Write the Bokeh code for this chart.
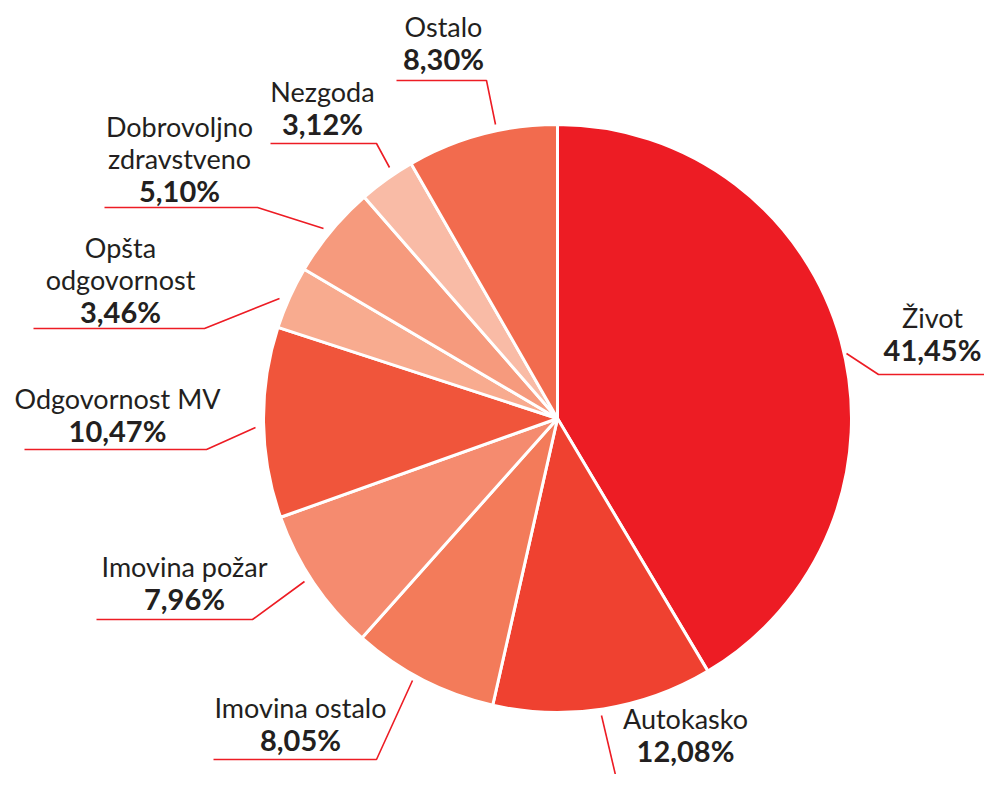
import math
from bokeh.plotting import figure
from bokeh.models import Range1d, ColumnDataSource
from bokeh.core.properties import value
from bokeh.embed import file_html
from bokeh.resources import INLINE

# ---- data ----
categories = ["Život", "Autokasko", "Imovina ostalo", "Imovina požar", "Odgovornost MV",
              "Opšta\nodgovornost", "Dobrovoljno\nzdravstveno", "Nezgoda", "Ostalo"]
shares = [41.45, 12.08, 8.05, 7.96, 10.47, 3.46, 5.10, 3.12, 8.30]
pct_labels = ["41,45%", "12,08%", "8,05%", "7,96%", "10,47%", "3,46%", "5,10%", "3,12%", "8,30%"]
colors = ["#ED1C24", "#EF4130", "#F37B5A", "#F58B6F", "#F0553B",
          "#F8AB8F", "#F69A7D", "#F9BBA6", "#F26B4E"]

# ---- layout (screen pixel coordinates) ----
H = 790
cx, cy, R = 557, 418, 294
# label anchor: (center x, baseline y of percentage line)
label_pos = [(932, 361), (685, 762), (300, 751), (184, 610), (117, 442),
             (120, 323), (179, 202), (322, 135), (443, 70)]
TEXT_DY = -12  # compensation for rendered baseline offset
# leader polylines
leaders = [
    [(846, 353), (878, 374), (990, 374)],
    [(601, 715), (621, 800)],
    [(412, 680), (376, 759), (213, 759)],
    [(304, 581), (252, 619), (96, 619)],
    [(255, 427), (206, 449), (24, 449)],
    [(279, 298), (204, 328), (33, 328)],
    [(323, 228), (257, 207), (104, 207)],
    [(389, 167), (376, 143), (270, 143)],
    [(495, 124), (486, 80), (396, 80)],
]

p = figure(width=984, height=774, output_backend="svg", toolbar_location=None,
           x_range=Range1d(0, 984), y_range=Range1d(16, 790),
           min_border=0, outline_line_color=None, background_fill_color="white")
p.axis.visible = False
p.grid.visible = False

total = sum(shares)
starts, ends = [], []
acc = 0.0
for s in shares:
    starts.append(math.pi / 2 - 2 * math.pi * acc / total)
    acc += s
    ends.append(math.pi / 2 - 2 * math.pi * acc / total)

src = ColumnDataSource(dict(x=[cx] * len(shares), y=[H - cy] * len(shares),
                            start=starts, end=ends, color=colors))
p.wedge(x="x", y="y", radius=R, start_angle="start", end_angle="end",
        direction="clock", fill_color="color", line_color="white", line_width=3,
        source=src)

for pts in leaders:
    p.line([q[0] for q in pts], [H - q[1] for q in pts], line_color="#ED1C24", line_width=1.6)

FONT = "Lato"
LH = 32
nx, ny, nt, px_, py_, pt = [], [], [], [], [], []
for cat, pct, (lx, ly) in zip(categories, pct_labels, label_pos):
    ly = ly + TEXT_DY
    lines = cat.split("\n")
    px_.append(lx); py_.append(H - ly); pt.append(pct)
    for i, ln in enumerate(reversed(lines)):
        nx.append(lx); ny.append(H - (ly - LH * (i + 1))); nt.append(ln)

p.text(x=nx, y=ny, text=nt, text_font=value(FONT), text_font_size="27px",
       text_align="center", text_baseline="alphabetic", text_color="#231F20")
p.text(x=px_, y=py_, text=pt, text_font=value(FONT), text_font_size="29px",
       text_font_style="bold", text_align="center", text_baseline="alphabetic",
       text_color="#231F20")

open("out.html", "w").write(file_html(p, INLINE))
